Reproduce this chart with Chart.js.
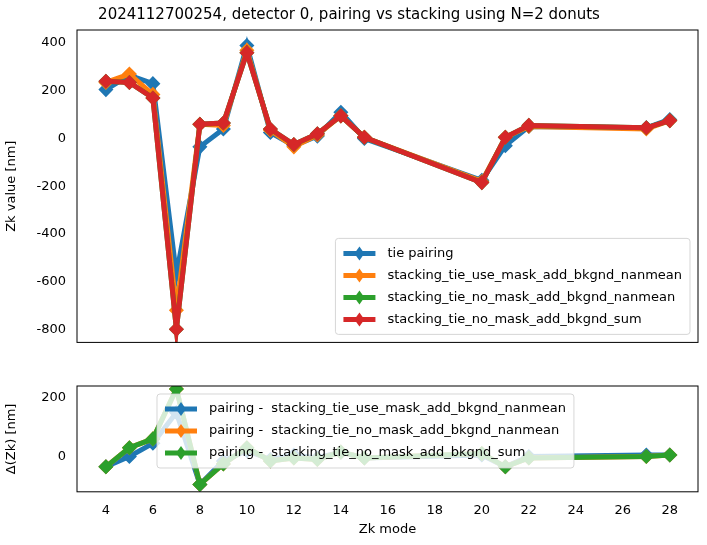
<!DOCTYPE html><html><head><script src="https://cdn.jsdelivr.net/npm/chart.js@4"></script>
<style>body{margin:0;background:#fff}canvas{position:absolute;left:0}</style></head><body>
<div style="position:absolute;left:0;top:0;width:707px;height:372px"><canvas id="c1"></canvas></div>
<div style="position:absolute;left:0;top:372px;width:707px;height:173px"><canvas id="c2"></canvas></div>
<script>
const modes=[4,5,6,7,8,9,10,11,12,13,14,15,20,21,22,27,28];
const tiePairing=[205,265,230,-570,-35,40,390,25,-30,10,110,0,-175,-30,50,45,80];
const useMaskNanmean=[235,270,185,-720,60,55,370,35,-35,15,95,5,-180,5,50,40,75];
const noMaskNanmean=[240,235,170,-800,60,65,360,40,-25,20,95,5,-185,5,55,45,75];
const noMaskSum=[240,235,170,-800,60,65,360,40,-25,20,95,5,-185,5,55,45,75];
const diffUseMask=[-35,0,45,150,-95,-15,20,-10,5,-5,15,-5,5,-35,0,5,5];
const diffNoMaskNanmean=[-35,30,60,230,-95,-25,30,-15,-5,-10,15,-5,10,-35,-5,0,5];
const diffNoMaskSum=[-35,30,60,230,-95,-25,30,-15,-5,-10,15,-5,10,-35,-5,0,5];
const topLabels=['tie pairing','stacking_tie_use_mask_add_bkgnd_nanmean','stacking_tie_no_mask_add_bkgnd_nanmean','stacking_tie_no_mask_add_bkgnd_sum'];
const botLabels=['pairing -  stacking_tie_use_mask_add_bkgnd_nanmean','pairing -  stacking_tie_no_mask_add_bkgnd_nanmean','pairing -  stacking_tie_no_mask_add_bkgnd_sum'];
const cols=['#1f77b4','#ff7f0e','#2ca02c','#d62728'];
const F='DejaVu Sans';
Chart.defaults.font.family=F;Chart.defaults.font.size=13;Chart.defaults.color='#000';
function ds(lbl,d,c,i){return{label:lbl,order:10-i,data:modes.map((m,k)=>({x:m,y:d[k]})),borderColor:c,backgroundColor:c,borderWidth:5,pointStyle:'rectRot',pointRadius:4,pointHoverRadius:4,tension:0};}
function legendPlugin(pos){return{id:'lg',afterDraw(ch){const ctx=ch.ctx,a=ch.chartArea;const items=[...ch.data.datasets].sort((p,q)=>q.order-p.order);ctx.save();ctx.font='13px '+F;
let w=0;items.forEach(d=>w=Math.max(w,ctx.measureText(d.label).width));const lh=22,bw=w+60,bh=items.length*lh+8;
const x=pos.right?a.right-bw-8:a.left+pos.x,y=pos.bottom?a.bottom-bh-8:a.top+pos.y;
ctx.globalAlpha=0.8;ctx.fillStyle='#fff';ctx.strokeStyle='#ccc';ctx.lineWidth=1;ctx.beginPath();ctx.roundRect(x,y,bw,bh,3);ctx.fill();ctx.stroke();ctx.globalAlpha=1;
items.forEach((d,i)=>{const yy=y+4+lh*i+lh/2;ctx.strokeStyle=d.borderColor;ctx.lineWidth=5;ctx.beginPath();ctx.moveTo(x+8,yy);ctx.lineTo(x+40,yy);ctx.stroke();
ctx.fillStyle=d.borderColor;ctx.beginPath();ctx.moveTo(x+24,yy-7);ctx.lineTo(x+29,yy);ctx.lineTo(x+24,yy+7);ctx.lineTo(x+19,yy);ctx.fill();
ctx.fillStyle='#000';ctx.textBaseline='middle';ctx.fillText(d.label,x+52,yy);});ctx.restore();}};}
const frame={id:'fr',afterDatasetsDraw(ch){const a=ch.chartArea,c=ch.ctx;c.save();c.strokeStyle='#000';c.lineWidth=1;c.strokeRect(a.left,a.top,a.right-a.left,a.bottom-a.top);c.restore();}};
function xs(show,title){return{type:'linear',min:2.77,max:29.2,grid:{display:false,drawTicks:true},border:{display:false},
ticks:{stepSize:2,display:true,color:show?'#000':'rgba(0,0,0,0)',font:{size:13},padding:3},afterBuildTicks(s){s.ticks=[];for(let v=4;v<=28;v+=2)s.ticks.push({value:v});},
title:{display:!!title,text:title,font:{size:13},padding:{top:0}}};}
function ys(min,max,step,title){return{min,max,grid:{display:false},border:{display:false},ticks:{stepSize:step,font:{size:13}},
afterBuildTicks(s){s.ticks=[];let v=Math.ceil(min/step)*step;for(;v<=max;v+=step)s.ticks.push({value:v});},
afterFit(s){s.width=77;},title:{display:true,text:title,font:{size:13},padding:{bottom:2}}};}
new Chart(document.getElementById('c1'),{type:'line',data:{datasets:[ds(topLabels[0],tiePairing,cols[0],0),ds(topLabels[1],useMaskNanmean,cols[1],1),ds(topLabels[2],noMaskNanmean,cols[2],2),ds(topLabels[3],noMaskSum,cols[3],3)]},
options:{animation:false,responsive:true,maintainAspectRatio:false,layout:{padding:{right:9,top:2}},plugins:{legend:{display:false},tooltip:{enabled:false},
title:{display:true,text:'2024112700254, detector 0, pairing vs stacking using N=2 donuts',font:{size:15,weight:'normal'},padding:{top:4,bottom:6}}},
scales:{x:xs(false),y:ys(-855,455,200,'Zk value [nm]')}},plugins:[frame,legendPlugin({right:true,bottom:true})]});
new Chart(document.getElementById('c2'),{type:'line',data:{datasets:[ds(botLabels[0],diffUseMask,cols[0],0),ds(botLabels[1],diffNoMaskNanmean,cols[1],1),ds(botLabels[2],diffNoMaskSum,cols[2],2)]},
options:{animation:false,responsive:true,maintainAspectRatio:false,layout:{padding:{right:9,top:14,bottom:4}},plugins:{legend:{display:false},tooltip:{enabled:false}},
scales:{x:xs(true,'Zk mode'),y:ys(-120,240,200,'Δ(Zk) [nm]')}},plugins:[frame,legendPlugin({x:80,y:8})]});
</script></body></html>
